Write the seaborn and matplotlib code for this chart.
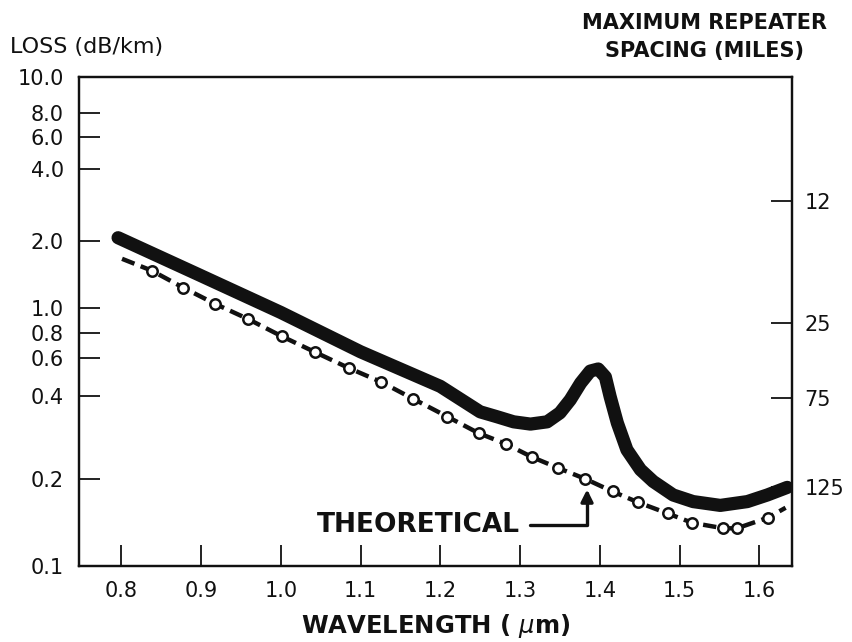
import matplotlib
matplotlib.use("Agg")
import matplotlib.pyplot as plt
import matplotlib.ticker as mticker
import numpy as np
import pandas as pd
import seaborn as sns

measured_um = [0.796, 0.895, 1.0, 1.1, 1.2, 1.25, 1.271, 1.292, 1.313, 1.334, 1.350, 1.363, 1.376,
               1.388, 1.398, 1.407, 1.413, 1.422, 1.434, 1.451, 1.467, 1.492, 1.517, 1.551,
               1.585, 1.610, 1.635]
measured_loss = [2.06, 1.42, 0.96, 0.646, 0.443, 0.350, 0.336, 0.322, 0.316, 0.322, 0.347, 0.387,
                 0.459, 0.522, 0.534, 0.490, 0.397, 0.319, 0.255, 0.216, 0.196, 0.176, 0.167,
                 0.162, 0.167, 0.176, 0.187]

# theoretical loss (dashed curve with circles)
theory_um = [0.801, 0.838, 0.878, 0.918, 0.959, 1.001, 1.043, 1.085, 1.126, 1.166, 1.209, 1.248,
             1.282, 1.315, 1.348, 1.382, 1.416, 1.448, 1.485, 1.516, 1.555, 1.572, 1.611, 1.633]
theory_loss = [1.66, 1.47, 1.23, 1.04, 0.906, 0.773, 0.643, 0.540, 0.464, 0.390, 0.336, 0.293,
               0.268, 0.240, 0.219, 0.200, 0.181, 0.166, 0.152, 0.141, 0.135, 0.135, 0.147, 0.159]

x_ticks = [0.8, 0.9, 1.0, 1.1, 1.2, 1.3, 1.4, 1.5, 1.6]
loss_ticks = [10.0, 8.0, 6.0, 4.0, 2.0, 1.0, 0.8, 0.6, 0.4, 0.2, 0.1]
loss_labels = ["10.0", "8.0", "6.0", "4.0", "2.0", "1.0", "0.8", "0.6", "0.4", "0.2", "0.1"]
# right axis: repeater spacing in miles, placed at the matching loss
spacing_at_loss = [2.94, 0.875, 0.393, 0.188]
spacing_labels = ["12", "25", "75", "125"]

# the printed loss axis is a hand-ruled log scale: where each gridded value sits (axis fraction)
rule_vals = [0.1, 0.2, 0.4, 0.6, 0.8, 1.0, 2.0, 4.0, 6.0, 8.0, 10.0]
rule_frac = [0.0, 0.178, 0.348, 0.425, 0.476, 0.528, 0.665, 0.812, 0.877, 0.926, 1.0]
rule_log = np.log10(rule_vals)


def ruled_fwd(v):
    v = np.clip(np.asarray(v, dtype=float), 1e-6, None)
    return np.interp(np.log10(v), rule_log, rule_frac)


def ruled_inv(p):
    return 10 ** np.interp(np.asarray(p, dtype=float), rule_frac, rule_log)


measured = pd.DataFrame({"um": measured_um, "loss": measured_loss})
theory = pd.DataFrame({"um": theory_um, "loss": theory_loss})

sns.set_style("ticks")
plt.rcParams["font.family"] = ["DejaVu Sans"]
ink = "#111111"

fig = plt.figure(figsize=(8.53, 6.42), dpi=100)
ax = fig.add_axes([0.0926, 0.1184, 0.8359, 0.7617])

sns.lineplot(data=measured, x="um", y="loss", ax=ax, color=ink, linewidth=9.5,
             sort=False, estimator=None)
for ln in ax.lines:
    ln.set_solid_capstyle("round")
    ln.set_solid_joinstyle("round")

sns.lineplot(data=theory, x="um", y="loss", ax=ax, color=ink, linewidth=3.2,
             sort=False, estimator=None, linestyle=(0, (3.0, 1.5)),
             marker="o", markersize=7.5, markerfacecolor="white",
             markeredgecolor=ink, markeredgewidth=1.8,
             markevery=list(range(1, len(theory_um) - 1)))

ax.set_yscale("function", functions=(ruled_fwd, ruled_inv))
ax.set_xlim(0.747, 1.641)
ax.set_ylim(0.1, 10.0)
ax.set_xticks(x_ticks)
ax.set_xticklabels([f"{v:.1f}" for v in x_ticks])
ax.yaxis.set_major_locator(mticker.FixedLocator(loss_ticks))
ax.yaxis.set_major_formatter(mticker.FixedFormatter(loss_labels))
ax.yaxis.set_minor_locator(mticker.NullLocator())
ax.tick_params(axis="both", direction="in", length=15, width=1.3, color=ink,
               labelsize=15, labelcolor=ink, pad=11)
ax.set_xlabel("WAVELENGTH ( $\\mu$m)", fontsize=17.5, fontweight="bold", color=ink, labelpad=8)
ax.set_ylabel("")
for s in ax.spines.values():
    s.set_linewidth(1.6)
    s.set_color(ink)

ax2 = ax.twinx()
ax2.set_yscale("function", functions=(ruled_fwd, ruled_inv))
ax2.set_ylim(0.1, 10.0)
ax2.yaxis.set_major_locator(mticker.FixedLocator(spacing_at_loss))
ax2.yaxis.set_major_formatter(mticker.FixedFormatter(spacing_labels))
ax2.yaxis.set_minor_locator(mticker.NullLocator())
ax2.tick_params(axis="y", direction="in", length=15, width=1.3, color=ink,
                labelsize=15, labelcolor=ink, pad=9)
for s in ax2.spines.values():
    s.set_linewidth(1.6)
    s.set_color(ink)

ax.annotate("THEORETICAL", xy=(1.384, 0.184), xytext=(1.300, 0.139),
            ha="right", va="center", fontsize=19, fontweight="bold", color=ink,
            arrowprops=dict(arrowstyle="-|>", color=ink, lw=2.4, mutation_scale=18,
                            connectionstyle="angle,angleA=0,angleB=90,rad=0",
                            shrinkA=5, shrinkB=0))

fig.text(10 / 853, 1 - 47 / 642, "LOSS (dB/km)", fontsize=16, color=ink,
         ha="left", va="center")
fig.text(0.826, 1 - 37 / 642, "MAXIMUM REPEATER\nSPACING (MILES)", fontsize=15,
         fontweight="bold", color=ink, ha="center", va="center", linespacing=1.5)

fig.savefig("out.png", dpi=100)
